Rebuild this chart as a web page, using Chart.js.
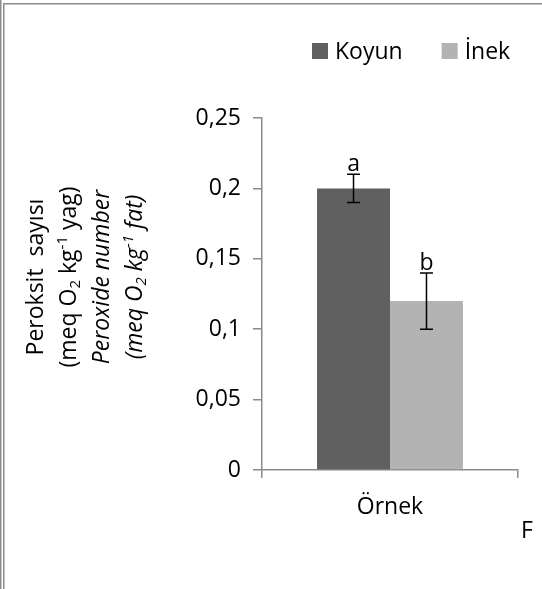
<!DOCTYPE html>
<html>
<head>
<meta charset="utf-8">
<script src="https://cdn.jsdelivr.net/npm/chart.js@4.4.1/dist/chart.umd.min.js"></script>
<style>
  html, body { margin: 0; padding: 0; background: #fff; }
  #wrap { width: 542px; height: 589px; position: relative; }
</style>
</head>
<body>
<div id="wrap"><canvas id="c" width="542" height="589"></canvas></div>
<script>
// Peroxide value of sheep and cow samples
const categories = ['Örnek'];
const koyunValues = [0.2];
const inekValues = [0.12];
const koyunErrors = [0.01];
const inekErrors = [0.02];
const koyunLetters = ['a'];
const inekLetters = ['b'];
const yTickLabels = ['0', '0,05', '0,1', '0,15', '0,2', '0,25'];

// Axis title, one entry per line; sub/sup segments are drawn smaller
const yTitleLines = [
  { italic: false, parts: [{ t: 'Peroksit  sayısı' }] },
  { italic: false, parts: [{ t: '(meq O' }, { t: '2', sub: true }, { t: ' kg' }, { t: '-1', sup: true }, { t: ' yag)' }] },
  { italic: true, parts: [{ t: 'Peroxide number' }] },
  { italic: true, parts: [{ t: '(meq O' }, { t: '2', sub: true }, { t: ' kg' }, { t: '-1', sup: true }, { t: ' fat)' }] }
];

const FONT = "'Open Sans', 'DejaVu Sans', sans-serif";
const FS = 23;
const AXIS = '#8a8a8a';

Chart.defaults.font.family = FONT;
Chart.defaults.font.size = FS;
Chart.defaults.color = '#000';

// outer frame of the figure
const framePlugin = {
  id: 'frame',
  beforeDraw(chart) {
    const c = chart.ctx;
    c.save();
    c.fillStyle = '#fff';
    c.fillRect(0, 0, chart.width, chart.height);
    c.restore();
  },
  afterDraw(chart) {
    const c = chart.ctx;
    c.save();
    c.strokeStyle = '#8c8c8c';
    c.lineWidth = 1.5;
    c.beginPath();
    c.moveTo(0.75, 0); c.lineTo(0.75, chart.height);
    c.moveTo(3.75, chart.height); c.lineTo(3.75, 3.75); c.lineTo(chart.width, 3.75);
    c.stroke();
    // stray caption letter at the lower right
    c.fillStyle = '#000';
    c.font = FS + 'px ' + FONT;
    c.textBaseline = 'alphabetic';
    c.textAlign = 'left';
    c.fillText('F', 521, 538);
    c.restore();
  }
};

// legend with squares, laid out as in the figure
const legendPlugin = {
  id: 'squareLegend',
  afterDraw(chart) {
    const c = chart.ctx;
    c.save();
    c.font = FS + 'px ' + FONT;
    c.textBaseline = 'middle';
    c.textAlign = 'left';
    let x = 312;
    const cy = 51, box = 16;
    chart.data.datasets.forEach(ds => {
      c.fillStyle = ds.backgroundColor;
      c.fillRect(x, cy - box / 2, box, box);
      c.fillStyle = '#000';
      c.fillText(ds.label, x + box + 7, cy + 1);
      x += box + 7 + c.measureText(ds.label).width + 39;
    });
    c.restore();
  }
};

// error bars and significance letters
const errorBarPlugin = {
  id: 'errorBars',
  afterDatasetsDraw(chart) {
    const c = chart.ctx;
    const ys = chart.scales.y;
    c.save();
    chart.data.datasets.forEach((ds, di) => {
      const meta = chart.getDatasetMeta(di);
      meta.data.forEach((bar, i) => {
        const v = ds.data[i], e = ds.errors[i];
        const top = ys.getPixelForValue(v + e);
        const bot = ys.getPixelForValue(v - e);
        const x = bar.x;
        c.strokeStyle = '#000';
        c.lineWidth = 1.5;
        c.beginPath();
        c.moveTo(x, top); c.lineTo(x, bot);
        c.moveTo(x - 6.5, top); c.lineTo(x + 6.5, top);
        c.moveTo(x - 6.5, bot); c.lineTo(x + 6.5, bot);
        c.stroke();
        c.fillStyle = '#000';
        c.font = FS + 'px ' + FONT;
        c.textAlign = 'center';
        c.textBaseline = 'alphabetic';
        c.fillText(ds.letters[i], x, top - 3);
      });
    });
    c.restore();
  }
};

// rotated multi-line y axis title with sub/superscripts
const yTitlePlugin = {
  id: 'yTitle',
  afterDraw(chart) {
    const c = chart.ctx;
    const area = chart.chartArea;
    const cy = (area.top + area.bottom) / 2 - 17;
    const baselines = [43, 76, 109, 142];
    c.save();
    c.fillStyle = '#000';
    c.textBaseline = 'alphabetic';
    c.textAlign = 'left';
    yTitleLines.forEach((line, li) => {
      const style = line.italic ? 'italic ' : '';
      const mainFont = style + FS + 'px ' + FONT;
      const smallFont = style + Math.round(FS * 0.65) + 'px ' + FONT;
      let total = 0;
      line.parts.forEach(p => {
        c.font = (p.sub || p.sup) ? smallFont : mainFont;
        p.w = c.measureText(p.t).width;
        total += p.w;
      });
      c.save();
      c.translate(baselines[li], cy);
      c.rotate(-Math.PI / 2);
      let x = -total / 2;
      line.parts.forEach(p => {
        c.font = (p.sub || p.sup) ? smallFont : mainFont;
        const dy = p.sub ? 4 : (p.sup ? -9 : 0);
        c.fillText(p.t, x, dy);
        x += p.w;
      });
      c.restore();
    });
    c.restore();
  }
};

const chart = new Chart(document.getElementById('c'), {
  type: 'bar',
  data: {
    labels: categories,
    datasets: [
      { label: 'Koyun', data: koyunValues, errors: koyunErrors, letters: koyunLetters, backgroundColor: '#606060' },
      { label: 'İnek', data: inekValues, errors: inekErrors, letters: inekLetters, backgroundColor: '#b3b3b3' }
    ]
  },
  options: {
    responsive: false,
    animation: false,
    layout: { padding: { left: 0, right: 24, top: 118, bottom: 0 } },
    datasets: { bar: { categoryPercentage: 0.57, barPercentage: 1 } },
    plugins: {
      legend: { display: false },
      tooltip: { enabled: false }
    },
    scales: {
      x: {
        grid: { drawOnChartArea: false, offset: true, tickLength: 8, color: AXIS, lineWidth: 1.5 },
        border: { color: AXIS, width: 1.5 },
        ticks: { padding: 16, color: '#000', font: { size: FS } },
        afterFit: s => { s.height = 119; }
      },
      y: {
        min: 0,
        max: 0.25,
        ticks: { stepSize: 0.05, padding: 12, color: '#000', font: { size: FS }, callback: (v, i) => yTickLabels[i] },
        grid: { drawOnChartArea: false, tickLength: 9, color: AXIS, lineWidth: 1.5 },
        border: { color: AXIS, width: 1.5 },
        afterFit: s => { s.width = 262; }
      }
    }
  },
  plugins: [framePlugin, legendPlugin, errorBarPlugin, yTitlePlugin]
});
</script>
</body>
</html>
